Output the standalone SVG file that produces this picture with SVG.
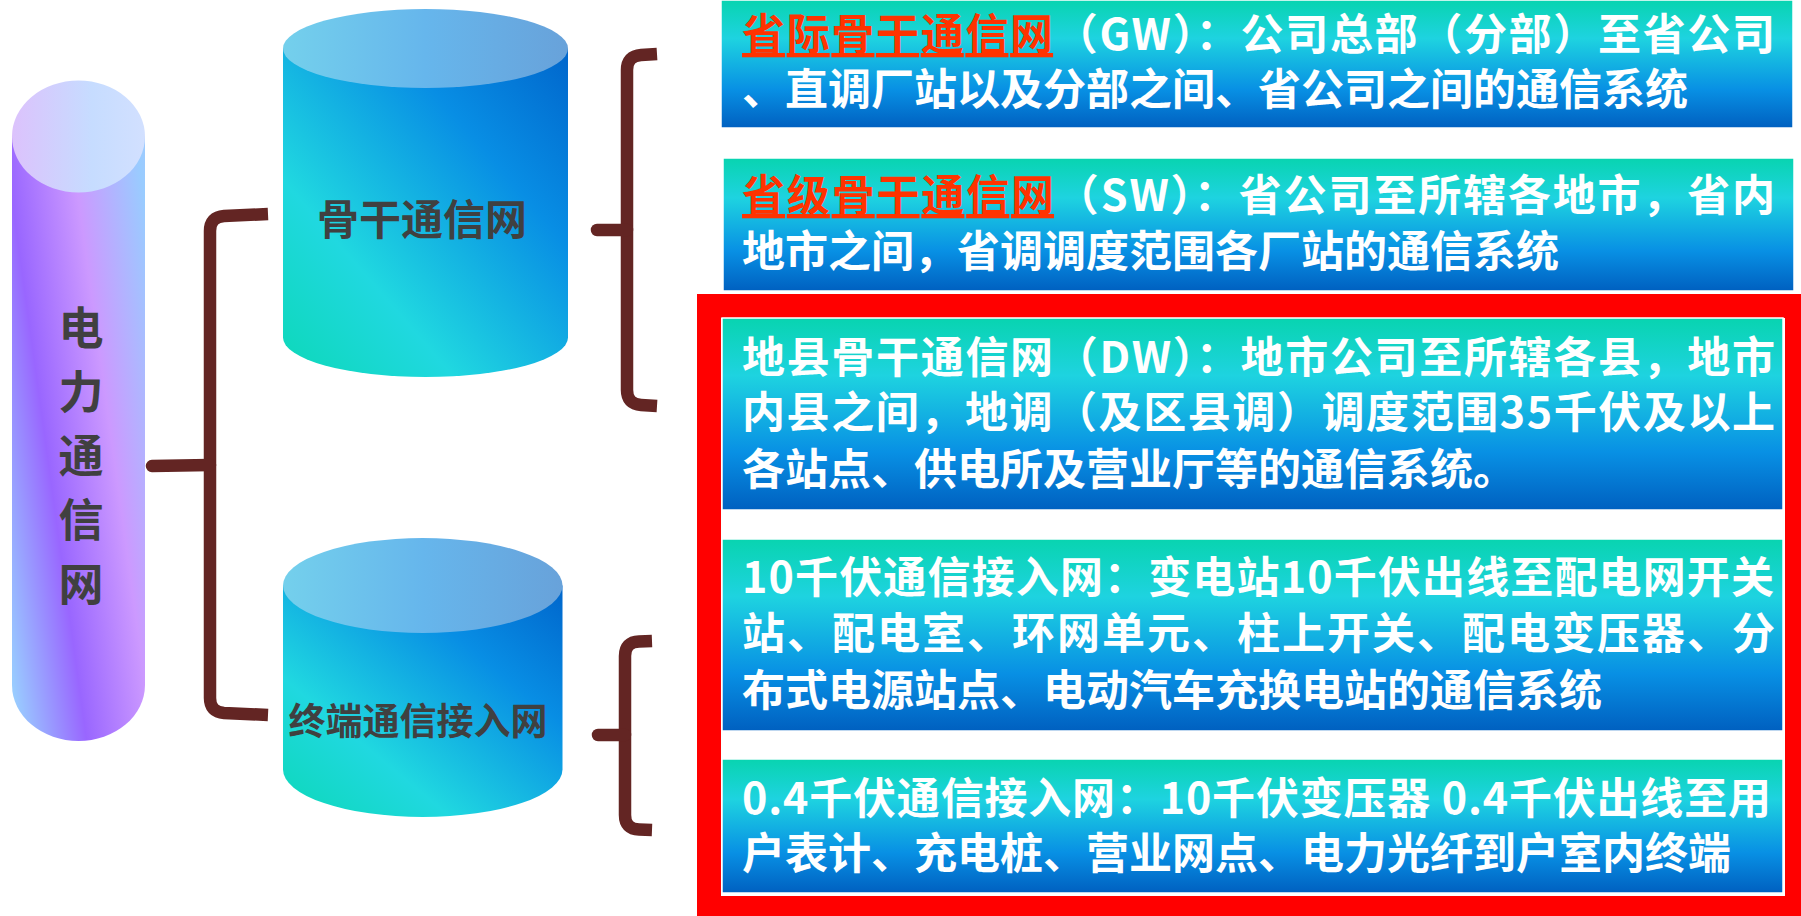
<svg xmlns="http://www.w3.org/2000/svg" width="1801" height="916" viewBox="0 0 1801 916">
<defs>
<style>
.lbl{font-family:"Noto Sans CJK SC","Noto Sans",sans-serif;font-weight:bold;fill:#404040;text-anchor:middle}
.txt{font-family:"Noto Sans CJK SC","Noto Sans",sans-serif;font-weight:bold;font-size:43px;fill:#ffffff}
.hl{fill:#ff3300;text-decoration:underline}
.box{fill:url(#boxGrad);stroke:#ffffff;stroke-width:1.5}
.brace{fill:none;stroke:#632523;stroke-width:12.5;stroke-linejoin:round}
.nub{fill:none;stroke:#632523;stroke-width:12.5;stroke-linecap:round}
</style>
<linearGradient id="boxGrad" x1="0" y1="0" x2="0" y2="1">
<stop offset="0" stop-color="#08d4b0"/>
<stop offset="0.3" stop-color="#1ed3e0"/>
<stop offset="0.7" stop-color="#0890e4"/>
<stop offset="1" stop-color="#0060c0"/>
</linearGradient>
<linearGradient id="blueBody" x1="0" y1="1" x2="1" y2="0">
<stop offset="0" stop-color="#0cd8b8"/>
<stop offset="0.3" stop-color="#20d8e0"/>
<stop offset="0.7" stop-color="#088ee4"/>
<stop offset="1" stop-color="#0066cc"/>
</linearGradient>
<linearGradient id="blueTop" x1="0" y1="0" x2="1" y2="0">
<stop offset="0" stop-color="#74d0ec"/>
<stop offset="0.5" stop-color="#66b6ec"/>
<stop offset="1" stop-color="#68a2da"/>
</linearGradient>
<linearGradient id="purpleBody" gradientUnits="userSpaceOnUse" x1="-86" y1="213.5" x2="169" y2="178.4">
<stop offset="0" stop-color="#b4c0ff"/>
<stop offset="0.13" stop-color="#99ccff"/>
<stop offset="0.385" stop-color="#9966ff"/>
<stop offset="0.64" stop-color="#cc99ff"/>
<stop offset="0.895" stop-color="#99ccff"/>
<stop offset="1" stop-color="#a8c8ff"/>
</linearGradient>
<linearGradient id="purpleTop" x1="0" y1="0" x2="1" y2="0">
<stop offset="0" stop-color="#dcc2fc"/>
<stop offset="0.6" stop-color="#c6dcff"/>
<stop offset="1" stop-color="#d2e0ff"/>
</linearGradient>
</defs>
<rect width="1801" height="916" fill="#ffffff"/>

<g id="node-power">
<path d="M12,136.5 L12,685 A66.5,56 0 0 0 145,685 L145,136.5 Z" fill="url(#purpleBody)"/>
<ellipse cx="78.5" cy="136.5" rx="66.5" ry="56" fill="url(#purpleTop)"/>
<text class="lbl" font-size="45" x="81" y="345">电</text>
<text class="lbl" font-size="45" x="81" y="409">力</text>
<text class="lbl" font-size="45" x="81" y="473">通</text>
<text class="lbl" font-size="45" x="81" y="537">信</text>
<text class="lbl" font-size="45" x="81" y="601">网</text>
</g>

<g id="node-backbone">
<path d="M283,48.5 L283,337.5 A142.5,39.5 0 0 0 568,337.5 L568,48.5 Z" fill="url(#blueBody)"/>
<ellipse cx="425.5" cy="48.5" rx="142.5" ry="39.5" fill="url(#blueTop)"/>
<text class="lbl" font-size="42" x="422" y="235">骨干通信网</text>
</g>

<g id="node-access">
<path d="M283,585.5 L283,769.5 A139.75,47.5 0 0 0 562.5,769.5 L562.5,585.5 Z" fill="url(#blueBody)"/>
<ellipse cx="422.75" cy="585.5" rx="139.75" ry="47.5" fill="url(#blueTop)"/>
<text class="lbl" font-size="37" x="418" y="735">终端通信接入网</text>
</g>

<g id="connectors">
<path class="brace" d="M268,214 L224,216 Q210,217 210,231 L210,698 Q210,712 224,713 L268,715"/>
<path class="nub" d="M210,465 L152,466"/>
<path class="brace" d="M657,54 L641,55 Q627,56 627,70 L627,390 Q627,404 641,405 L657,406"/>
<path class="nub" d="M627,230 L597,230"/>
<path class="brace" d="M652,641 L639,641.5 Q625,642 625,656 L625,815 Q625,829 639,829.5 L652,830"/>
<path class="nub" d="M625,735 L598,735"/>
</g>

<g id="box-gw">
<rect class="box" x="721" y="0" width="1072" height="128"/>
<text class="txt" x="742" y="50" textLength="1033" lengthAdjust="spacing"><tspan class="hl">省际骨干通信网</tspan>（GW）：公司总部（分部）至省公司</text>
<text class="txt" x="742" y="105">、直调厂站以及分部之间、省公司之间的通信系统</text>
</g>

<g id="box-sw">
<rect class="box" x="723" y="158" width="1071" height="133"/>
<text class="txt" x="742" y="211" textLength="1033" lengthAdjust="spacing"><tspan class="hl">省级骨干通信网</tspan>（SW）：省公司至所辖各地市，省内</text>
<text class="txt" x="742" y="267">地市之间，省调调度范围各厂站的通信系统</text>
</g>

<g id="frame-local">
<rect x="709" y="306" width="1088" height="602" fill="none" stroke="#ff0000" stroke-width="24"/>
</g>

<g id="box-dw">
<rect class="box" x="722" y="318" width="1061" height="192"/>
<text class="txt" x="742" y="373" textLength="1033" lengthAdjust="spacing">地县骨干通信网（DW）：地市公司至所辖各县，地市</text>
<text class="txt" x="742" y="428" textLength="1033" lengthAdjust="spacing">内县之间，地调（及区县调）调度范围35千伏及以上</text>
<text class="txt" x="742" y="485">各站点、供电所及营业厅等的通信系统。</text>
</g>

<g id="box-10kv">
<rect class="box" x="722" y="539" width="1061" height="192"/>
<text class="txt" x="742" y="593" textLength="1032" lengthAdjust="spacing">10千伏通信接入网：变电站10千伏出线至配电网开关</text>
<text class="txt" x="742" y="649" textLength="1033" lengthAdjust="spacing">站、配电室、环网单元、柱上开关、配电变压器、分</text>
<text class="txt" x="742" y="706">布式电源站点、电动汽车充换电站的通信系统</text>
</g>

<g id="box-04kv">
<rect class="box" x="722" y="759" width="1061" height="134"/>
<text class="txt" x="742" y="814" textLength="1029" lengthAdjust="spacing">0.4千伏通信接入网：10千伏变压器 0.4千伏出线至用</text>
<text class="txt" x="742" y="869">户表计、充电桩、营业网点、电力光纤到户室内终端</text>
</g>
</svg>
